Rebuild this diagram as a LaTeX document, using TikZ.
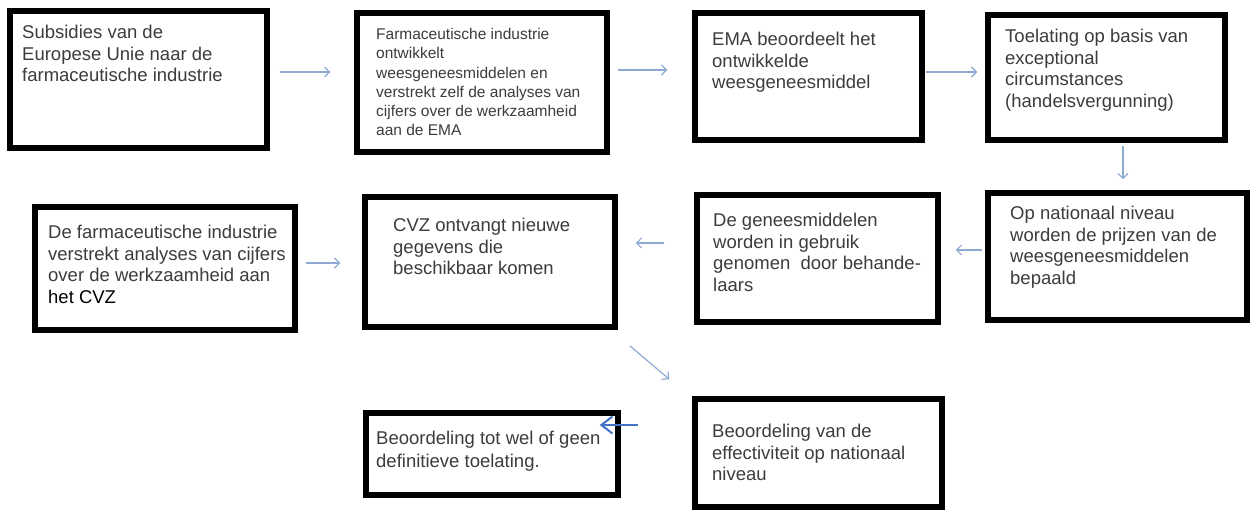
\documentclass[tikz,border=0pt]{standalone}
\usepackage{fontspec}
\setmainfont{Liberation Sans}
\usetikzlibrary{arrows.meta}
\definecolor{txtgray}{HTML}{3C3C3C}
\definecolor{arrblue}{HTML}{8FAAD2}
\definecolor{darkblue}{HTML}{4472C4}
\begin{document}
\begin{tikzpicture}[x=1pt,y=-1pt,
  box/.style={draw=black, line width=5.5pt, fill=white, inner sep=0pt, rectangle},
  txt/.style={anchor=north west, inner sep=0pt, align=left, text=txtgray,
    font=\fontsize{18.5}{21.5}\selectfont},
  smalltxt/.style={txt, font=\fontsize{15.5}{19.3}\selectfont},
  arr/.style={draw=arrblue, line width=1.2pt, -{Straight Barb[length=5pt,width=10pt]}},
  darkarr/.style={draw=darkblue, line width=2pt, -{Straight Barb[length=11pt,width=17pt]}}
]
\useasboundingbox (0,0) rectangle (1250,510);
\fill[white] (0,0) rectangle (1250,510);

% boxes
\node[box, minimum width=257pt, minimum height=137pt] (b1) at (138.5,79.5) {};
\node[box, minimum width=250pt, minimum height=139pt] (b2) at (482,82.5) {};
\node[box, minimum width=227pt, minimum height=127pt] (b3) at (808.5,76.5) {};
\node[box, minimum width=237pt, minimum height=125pt] (b4) at (1106.5,77.5) {};
\node[box, minimum width=259pt, minimum height=127pt] (b5) at (1117.5,256.5) {};
\node[box, minimum width=241pt, minimum height=127pt] (b6) at (817.5,258.5) {};
\node[box, minimum width=250pt, minimum height=130pt] (b7) at (490,262) {};
\node[box, minimum width=260pt, minimum height=123pt] (b8) at (165,268.5) {};
\node[box, minimum width=247pt, minimum height=108pt] (b9) at (818.5,453) {};
\node[box, minimum width=252pt, minimum height=82pt] (b10) at (492,454) {};

% texts
\node[txt] (t1) at (22,25) {Subsidies van de\\Europese Unie naar de\\farmaceutische industrie};
\node[smalltxt] (t2) at (376,28) {Farmaceutische industrie\\ontwikkelt\\weesgeneesmiddelen en\\verstrekt zelf de analyses van\\cijfers over de werkzaamheid\\aan de EMA};
\node[txt] (t3) at (712,32) {EMA beoordeelt het\\ontwikkelde\\weesgeneesmiddel};
\node[txt] (t4) at (1005,29) {Toelating op basis van\\exceptional\\circumstances\\(handelsvergunning)};
\node[txt] (t5) at (1010,206) {Op nationaal niveau\\worden de prijzen van de\\weesgeneesmiddelen\\bepaald};
\node[txt] (t6) at (713,213) {De geneesmiddelen\\worden in gebruik\\genomen\ \ door behande-\\laars};
\node[txt] (t7) at (393,218) {CVZ ontvangt nieuwe\\gegevens die\\beschikbaar komen};
\node[txt] (t8) at (48,225) {De farmaceutische industrie\\verstrekt analyses van cijfers\\over de werkzaamheid aan\\\textcolor{black}{het CVZ}};
\node[txt] (t9) at (712,424) {Beoordeling van de\\effectiviteit op nationaal\\niveau};
\node[txt, font=\fontsize{18.5}{23}\selectfont] (t10) at (376,431) {Beoordeling tot wel of geen\\definitieve toelating.};

% connectors
\draw[arr] ([shift={(10,-7.5)}]b1.east) -- ([shift={(-24,-10.5)}]b2.west);
\draw[arr] ([shift={(8,-12.5)}]b2.east) -- ([shift={(-25,-6.5)}]b3.west);
\draw[arr] ([shift={(1,-4.5)}]b3.east) -- ([shift={(-8,-5.5)}]b4.west);
\draw[arr] ([shift={(16.5,3)}]b4.south) -- ([shift={(5.5,-11)}]b5.north);
\draw[arr] ([shift={(-3,-6.5)}]b5.west) -- ([shift={(15,-8.5)}]b6.east);
\draw[arr] ([shift={(-30,-15.5)}]b6.west) -- ([shift={(18,-19)}]b7.east);
\draw[arr] ([shift={(8,-5.5)}]b8.east) -- ([shift={(-22,1)}]b7.west);
\draw[arr] ([shift={(12,16)}]b7.south east) -- ([shift={(-23,-17)}]b9.north west);
\draw[darkarr] ([shift={(-54,-28)}]b9.west) -- ([shift={(-21,-29)}]b10.east);
\end{tikzpicture}
\end{document}
